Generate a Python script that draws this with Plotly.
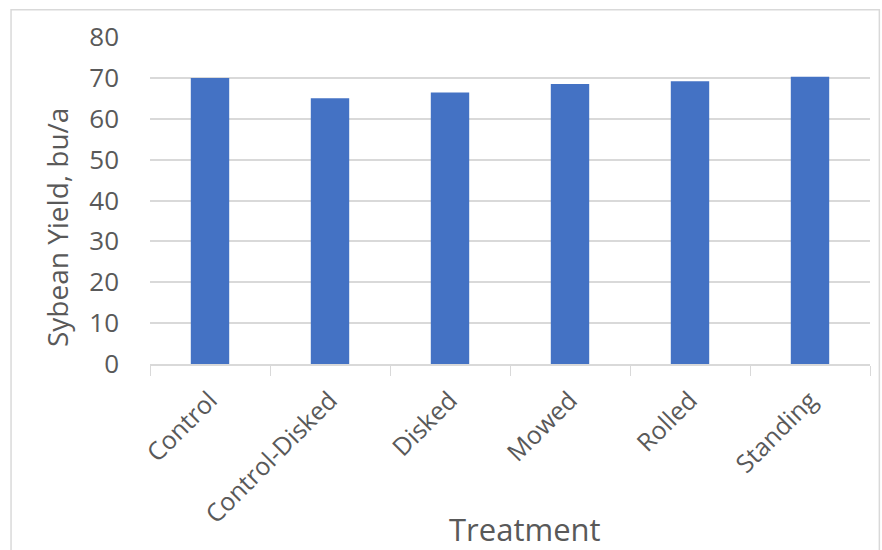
import plotly.graph_objects as go

treatments = ["Control", "Control-Disked", "Disked", "Mowed", "Rolled", "Standing"]
yield_bu_a = [70.0, 65.0, 66.4, 68.5, 69.2, 70.3]
y_ticks = [0, 10, 20, 30, 40, 50, 60, 70, 80]

FONT = "Open Sans, Liberation Sans, sans-serif"
TXT = "#595959"
GRID = "#d9d9d9"

fig = go.Figure(
    go.Bar(
        x=treatments,
        y=yield_bu_a,
        marker=dict(color="#4472C4", line=dict(width=0)),
    )
)

fig.update_layout(
    width=882,
    height=550,
    margin=dict(l=150, r=12, t=37, b=186),
    paper_bgcolor="white",
    plot_bgcolor="white",
    bargap=0.68,
    showlegend=False,
    font=dict(family=FONT, color=TXT),
    shapes=[
        dict(type="rect", xref="paper", yref="paper",
             x0=-0.193, x1=1.013, y0=-0.59, y1=1.083,
             line=dict(color=GRID, width=1.5), layer="below"),
    ],
    annotations=[
        dict(text="Sybean Yield, bu/a", textangle=-90,
             xref="paper", yref="paper", x=-0.129, y=0.419,
             xanchor="center", yanchor="middle", showarrow=False,
             font=dict(size=28, color=TXT, family=FONT)),
        dict(text="Treatment",
             xref="paper", yref="paper", x=0.521, y=-0.505,
             xanchor="center", yanchor="middle", showarrow=False,
             font=dict(size=31, color=TXT, family=FONT)),
    ],
)

fig.update_xaxes(
    showline=True, linecolor=GRID, linewidth=1.5,
    ticks="outside", tickson="boundaries", ticklen=10, tickcolor=GRID,
    tickangle=-45, tickfont=dict(size=25, color=TXT, family=FONT),
    ticklabelstandoff=10,
)

fig.update_yaxes(
    range=[0, 80], tickvals=y_ticks,
    showgrid=True, gridcolor=GRID, gridwidth=1.5,
    zeroline=False, showline=False,
    tickfont=dict(size=26, color=TXT, family=FONT),
    ticklabelstandoff=30,
)

fig.write_html("out.html")
